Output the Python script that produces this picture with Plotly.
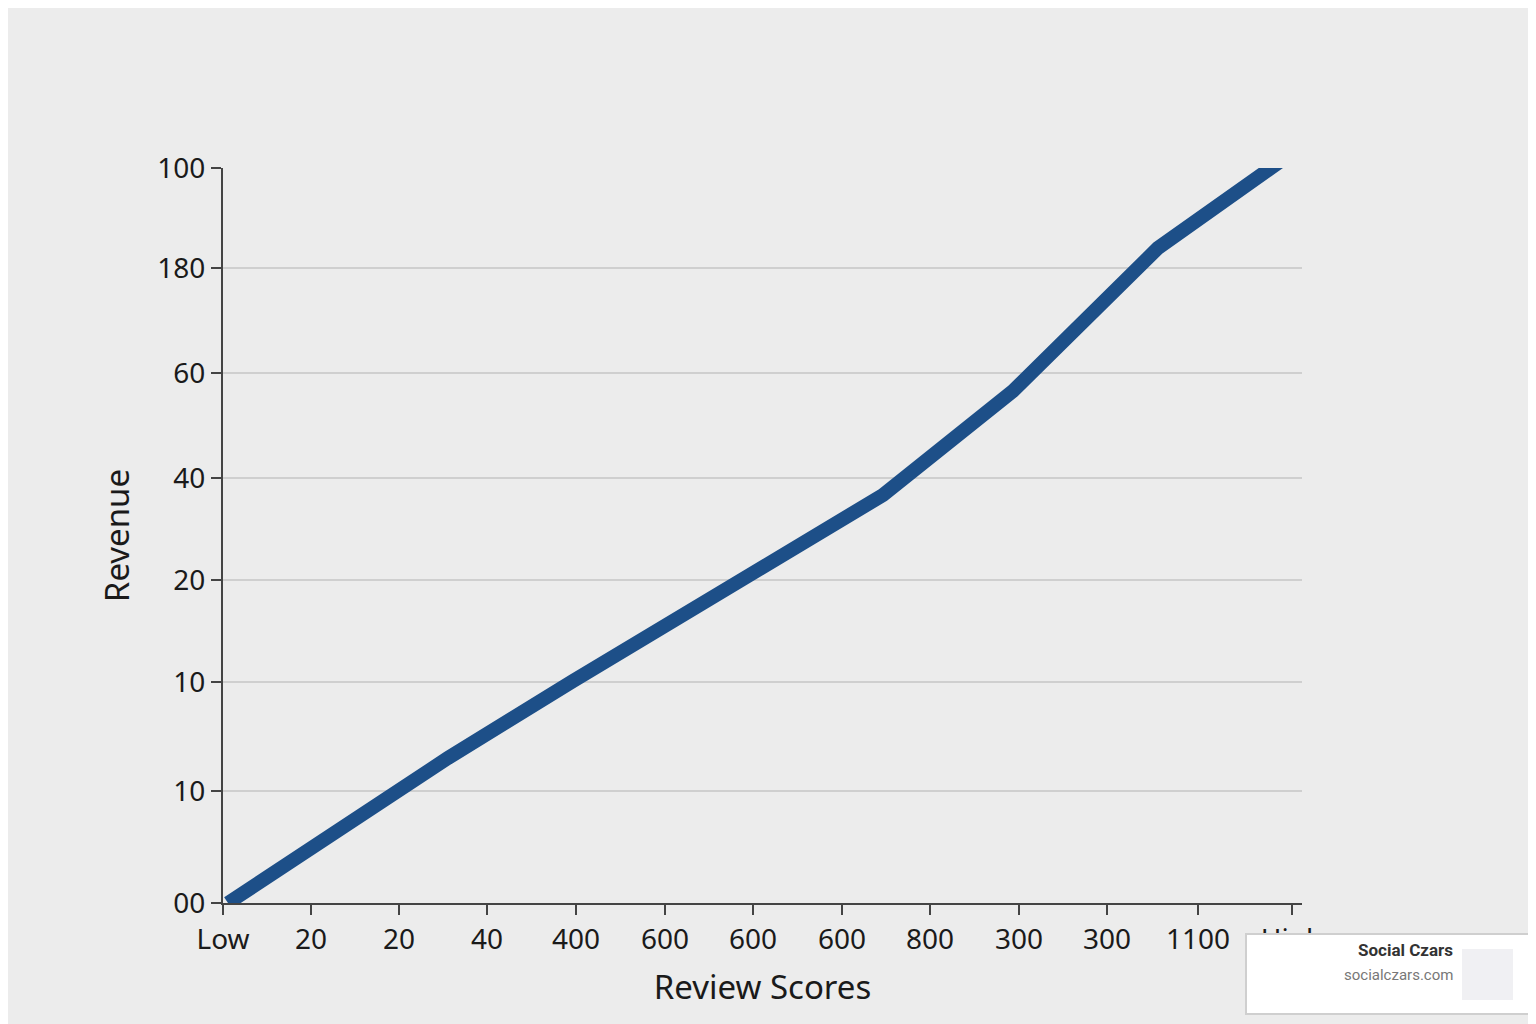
import plotly.graph_objects as go

# data (positions in axis units; tick labels as shown)
x_tickvals = [0, 88, 176, 264, 353, 442, 530, 619, 707, 796, 884, 975, 1069]
x_ticktext = ["Low", "20", "20", "40", "400", "600", "600", "600", "800", "300", "300", "1100", "High"]
y_tickvals = [0, 112, 221, 323, 425, 530, 635, 735]
y_ticktext = ["00", "10", "10", "20", "40", "60", "180", "100"]
line_x = [5, 225, 350, 530, 660, 790, 935, 1062]
line_y = [0, 145, 222, 330, 408, 512, 655, 745]

W, H = 1536, 1024
L, R, T, B = 215, 242, 160, 129
def px(x): return (x - L) / (W - L - R)
def py(y): return (H - B - y) / (H - T - B)

fig = go.Figure()
fig.add_trace(go.Scatter(
    x=line_x, y=line_y, mode="lines+markers",
    line=dict(color="#1d4f88", width=14),
    marker=dict(symbol=["circle"] + ["circle"] * 6 + ["arrow"],
                size=[14] + [0] * 6 + [40], angleref="previous",
                color="#1d4f88"),
    cliponaxis=False, hoverinfo="skip"))

fig.update_layout(
    width=W, height=H, paper_bgcolor="#ececec", plot_bgcolor="#ececec",
    margin=dict(l=L, r=R, t=T, b=B), showlegend=False,
    font=dict(family="Noto Sans", color="#1a1a1a"),
    xaxis=dict(range=[0, 1079], tickvals=x_tickvals, ticktext=x_ticktext,
               showgrid=False, zeroline=False, showline=True, linecolor="#444", linewidth=2,
               ticks="outside", ticklen=10, tickcolor="#444", tickwidth=2,
               tickfont=dict(size=28),
               title=dict(text="Review Scores", font=dict(size=33), standoff=20)),
    yaxis=dict(range=[0, 735], tickvals=y_tickvals, ticktext=y_ticktext,
               showgrid=True, gridcolor="#cfcfcf", gridwidth=2, zeroline=False,
               showline=True, linecolor="#444", linewidth=2,
               ticks="outside", ticklen=10, tickcolor="#444", tickwidth=2,
               tickfont=dict(size=28),
               title=dict(text="Revenue", font=dict(size=33), standoff=18)),
)

fig.add_shape(type="rect", xref="paper", yref="paper",
              x0=px(1238), x1=px(1521), y0=py(1006), y1=py(926),
              fillcolor="white", line=dict(color="#cfcfcf", width=2), layer="above")
fig.add_shape(type="rect", xref="paper", yref="paper",
              x0=px(1454), x1=px(1505), y0=py(992), y1=py(941),
              fillcolor="#f0f0f3", line=dict(width=0), layer="above")
fig.add_annotation(xref="paper", yref="paper", x=px(1447), y=py(954), text="<b>Social Czars</b>",
                   showarrow=False, xanchor="right", font=dict(size=17, color="#333", family="Roboto"))
fig.add_annotation(xref="paper", yref="paper", x=px(1447), y=py(978), text="socialczars.com",
                   showarrow=False, xanchor="right", font=dict(size=15, color="#777", family="Roboto"))

fig.write_html("out.html")
